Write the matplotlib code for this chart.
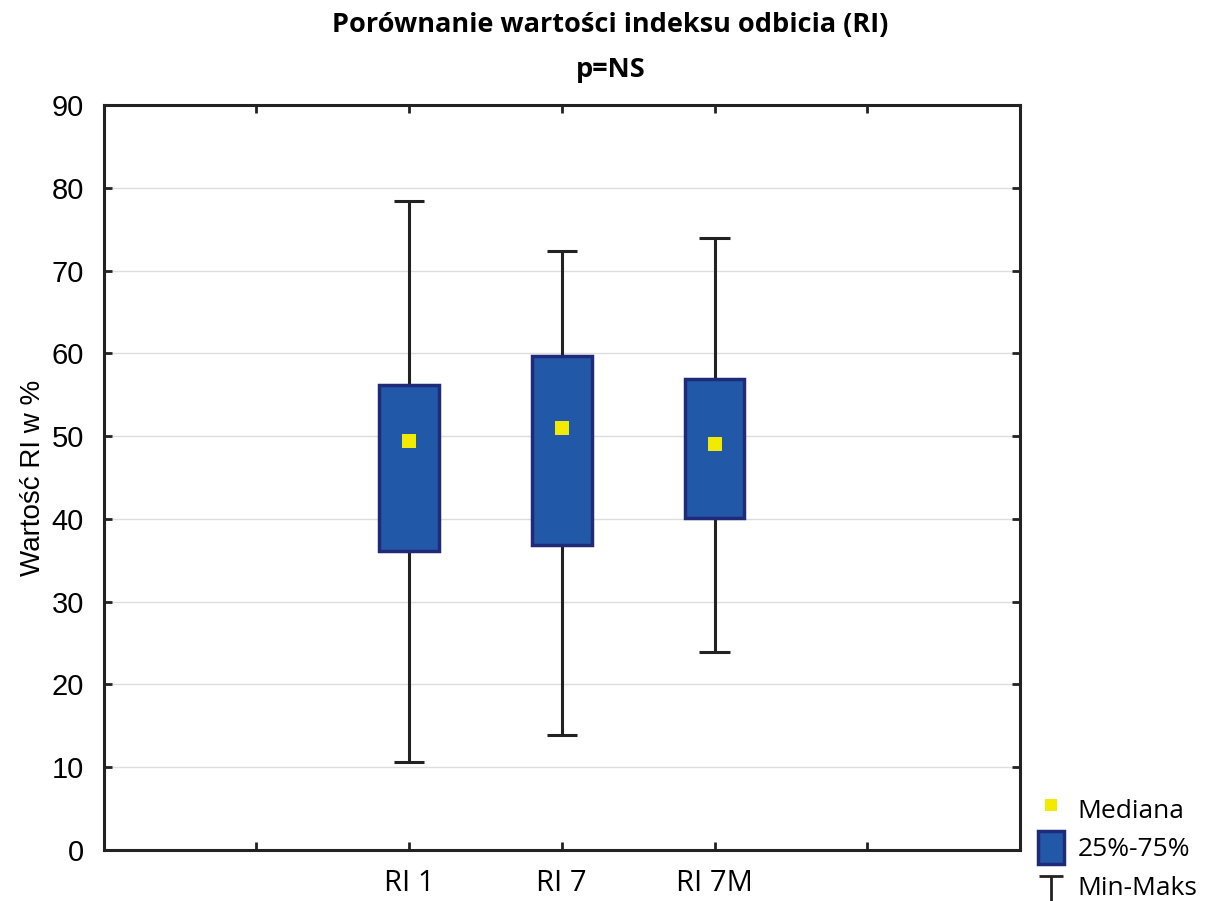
import matplotlib.pyplot as plt
from matplotlib.lines import Line2D
from matplotlib.patches import Patch
from matplotlib.path import Path

categories = ['RI 1', 'RI 7', 'RI 7M']
mins = [10.6, 13.9, 23.9]
q1 = [36.1, 36.8, 40.1]
medians = [49.4, 51.0, 49.0]
q3 = [56.2, 59.7, 56.9]
maxs = [78.4, 72.4, 73.9]
positions = [2, 3, 4]

box_color = '#2258a8'
edge_color = '#1f2a78'
med_color = '#f2ea00'

fig = plt.figure(figsize=(12.25, 9.01), dpi=100)
ax = fig.add_axes([0.0845, 0.0566, 0.7482, 0.8269])

ax.yaxis.grid(True, color='#dddddd', linewidth=1)
ax.set_axisbelow(True)

ax.vlines(positions, mins, maxs, color='#222222', linewidth=2.2, zorder=2)
ax.hlines(mins, [p - 0.1 for p in positions], [p + 0.1 for p in positions], color='#222222', linewidth=2.2, zorder=2)
ax.hlines(maxs, [p - 0.1 for p in positions], [p + 0.1 for p in positions], color='#222222', linewidth=2.2, zorder=2)
ax.bar(positions, [b - a for a, b in zip(q1, q3)], bottom=q1, width=0.39,
       color=box_color, edgecolor=edge_color, linewidth=2.5, zorder=3)
ax.scatter(positions, medians, marker='s', s=90, color=med_color, zorder=4, linewidths=0)

ax.set_xlim(0, 6)
ax.set_ylim(0, 90)
ax.set_xticks([1, 2, 3, 4, 5])
ax.set_xticklabels(['', 'RI 1', 'RI 7', 'RI 7M', ''], family='Open Sans', fontsize=20)
ax.set_yticks(range(0, 91, 10))
ax.tick_params(direction='in', length=6, width=2, top=True, right=True, labelsize=21, color='#222222')
ax.tick_params(axis='y', pad=14)
ax.tick_params(axis='x', pad=14)
for lab in ax.get_yticklabels():
    lab.set_family('Liberation Sans')
for s in ax.spines.values():
    s.set_linewidth(2.2)
    s.set_color('#222222')

ax.set_ylabel('Wartość RI w %', family='Liberation Sans', fontsize=20, labelpad=4)

fig.text(0.4985, 0.972, 'Porównanie wartości indeksu odbicia (RI)', ha='center', va='center',
         family='Open Sans', fontweight='bold', fontsize=19.5)
fig.text(0.4985, 0.922, 'p=NS', ha='center', va='center',
         family='Open Sans', fontweight='bold', fontsize=19.5)

tee = Path([(-0.5, 0.3), (0.5, 0.3), (0, 0.3), (0, -1)],
           [Path.MOVETO, Path.LINETO, Path.MOVETO, Path.LINETO])
handles = [
    Line2D([], [], marker='s', linestyle='none', markersize=9, markerfacecolor=med_color, markeredgewidth=0),
    Patch(facecolor=box_color, edgecolor=edge_color, linewidth=2.5),
    Line2D([], [], marker=tee, linestyle='none', markersize=34, color='#222222', fillstyle='none', markeredgewidth=2),
]
leg = fig.legend(handles, ['Mediana', '25%-75%', 'Min-Maks'], loc='lower left',
                 bbox_to_anchor=(0.828, -0.028), frameon=False, handlelength=1.0, handleheight=1.5,
                 handletextpad=0.5, labelspacing=0.25, prop={'family': 'Open Sans', 'size': 19})

fig.savefig('out.png', dpi=100)
